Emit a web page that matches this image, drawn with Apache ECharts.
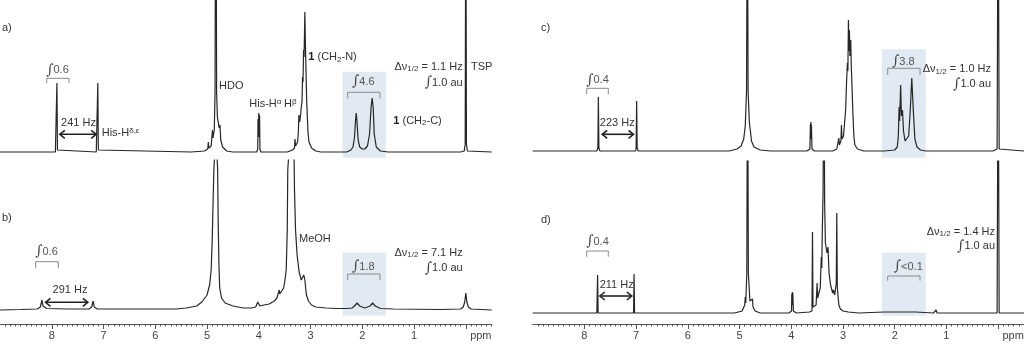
<!DOCTYPE html>
<html>
<head>
<meta charset="utf-8">
<script src="https://cdn.jsdelivr.net/npm/echarts@6/dist/echarts.min.js"></script>
<style>
html,body{margin:0;padding:0;background:#fff;}
#chart{width:1024px;height:345px;}
</style>
</head>
<body>
<div id="chart"></div>
<script>
// ---------- DATA (ppm, intensity above baseline) ----------
const ppmAxis = [9.0, -0.5];
const majorTicks = [0, 1, 2, 3, 4, 5, 6, 7, 8];
const tickLabels = ['1', '2', '3', '4', '5', '6', '7', '8'];
const labelTicks = [1, 2, 3, 4, 5, 6, 7, 8];

// a) spectrum
const specA = [
  [9.0,0],[7.93,0],[7.91,2],[7.90,69],[7.89,2],[7.87,0],
  [7.14,0],[7.12,2],[7.11,69],[7.10,2],[7.08,0],
  [5.3,0],[5.05,1],[4.985,3],[4.975,10],[4.965,4],[4.92,6],[4.895,22],[4.885,14],[4.86,22],[4.845,60],[4.83,400],[4.815,60],[4.80,35],[4.765,24],[4.75,27],[4.735,12],[4.70,5],[4.62,1],[4.5,0],
  [4.04,0],[4.02,3],[4.015,33],[4.008,15],[4.0,39],[3.992,15],[3.985,37],[3.978,3],[3.96,0],
  [3.45,0],[3.35,2],[3.31,4],[3.30,13],[3.29,6],[3.25,10],[3.235,20],[3.225,37],[3.21,30],[3.19,38],[3.18,45],[3.165,50],[3.155,75],[3.145,70],[3.135,102],[3.125,95],[3.11,140],[3.10,110],[3.075,52],[3.05,20],[3.03,10],[2.98,4],[2.9,1],[2.8,0],
  [2.30,0],[2.22,2],[2.18,5],[2.15,15],[2.13,32],[2.118,39],[2.105,32],[2.08,12],[2.05,5],[2.0,3],[1.95,3],[1.90,6],[1.86,18],[1.83,45],[1.81,54],[1.79,45],[1.77,18],[1.73,5],[1.65,1],[1.5,0],
  [0.1,0],[0.03,1],[0.012,8],[0.0,300],[-0.012,8],[-0.03,1],[-0.5,0]
];

// b) spectrum
const specB = [
  [9.0,0],[8.6,0.5],[8.28,1],[8.22,3],[8.19,10],[8.17,4],[8.10,1.5],[7.7,1],
  [7.28,1],[7.23,3],[7.20,9],[7.18,3],[7.12,1],[6.5,1],
  [5.6,1],[5.4,2],[5.2,4],[5.1,8],[5.0,15],[4.95,25],[4.92,40],[4.90,70],[4.88,115],[4.868,140],[4.852,155],[4.83,400],[4.808,155],[4.795,140],[4.785,90],[4.77,45],[4.755,22],[4.72,12],[4.65,7],[4.5,4],[4.3,2],[4.15,2],
  [4.06,3],[4.02,8],[3.98,4],[3.9,5],[3.8,6],[3.7,9],[3.65,12],[3.62,14],[3.605,20],[3.595,16],[3.56,18],[3.52,22],[3.50,28],[3.49,26],[3.47,40],[3.45,80],[3.44,140],[3.415,160],[3.37,400],[3.32,160],[3.31,120],[3.29,80],[3.26,55],[3.22,38],[3.18,30],[3.15,30],[3.13,35],[3.12,36],[3.11,30],[3.08,15],[3.04,9],[2.98,5],[2.9,3],[2.7,2],[2.5,1.5],[2.3,1.5],
  [2.2,2],[2.15,4],[2.10,7],[2.05,4],[1.95,2],[1.85,4],[1.80,7],[1.75,4],[1.65,1.5],[1.4,1],[0.5,0.5],
  [0.1,1],[0.05,3],[0.02,8],[0.0,17],[-0.02,8],[-0.05,3],[-0.1,1],[-0.5,0]
];

// c) spectrum
const specC = [
  [9.0,0],[7.76,0],[7.74,3],[7.73,54],[7.72,3],[7.70,0],
  [7.01,0],[7.0,3],[6.99,50],[6.98,3],[6.96,0],
  [5.2,0],[5.05,2],[4.97,5],[4.92,12],[4.89,25],[4.865,60],[4.85,300],[4.835,60],[4.81,28],[4.80,26],[4.79,20],[4.77,10],[4.72,4],[4.6,1],[4.4,0],
  [3.70,0],[3.64,2],[3.63,27],[3.625,12],[3.62,29],[3.615,12],[3.61,26],[3.60,2],[3.55,0],
  [3.20,0],[3.12,2],[3.09,4],[3.08,13],[3.07,6],[3.04,10],[3.03,26],[3.02,12],[2.99,15],[2.965,31],[2.95,40],[2.93,70],[2.915,88],[2.905,80],[2.895,131],[2.885,100],[2.876,121],[2.865,95],[2.85,111],[2.84,85],[2.83,71],[2.81,40],[2.79,15],[2.77,6],[2.72,2],[2.6,0],
  [2.2,0],[2.0,1],[1.95,4],[1.93,15],[1.915,44],[1.905,30],[1.885,66],[1.87,35],[1.85,41],[1.83,20],[1.80,10],[1.77,8],[1.73,15],[1.70,40],[1.67,73],[1.64,40],[1.61,12],[1.57,4],[1.5,1],[1.4,0],
  [0.1,0],[0.02,2],[0.0,300],[-0.02,2],[-0.5,0]
];

// d) spectrum
const specD = [
  [9.0,0],[7.76,0],[7.745,38],[7.735,0],
  [7.05,0],[7.04,39],[7.03,0],
  [5.1,0],[4.95,2],[4.90,8],[4.89,16],[4.88,10],[4.86,40],[4.845,300],[4.83,40],[4.80,12],[4.75,14],[4.74,6],[4.7,2],[4.6,0],
  [4.05,0],[3.995,2],[3.99,19],[3.985,8],[3.98,21],[3.975,8],[3.97,20],[3.96,2],[3.9,0],
  [3.65,1],[3.60,2],[3.59,81],[3.58,6],[3.52,8],[3.50,30],[3.49,15],[3.44,25],[3.42,56],[3.41,45],[3.40,83],[3.385,120],[3.37,300],[3.355,110],[3.34,70],[3.31,60],[3.29,66],[3.27,40],[3.24,28],[3.22,26],[3.20,20],[3.185,23],[3.16,18],[3.13,30],[3.12,100],[3.11,25],[3.08,8],[3.05,4],[3.0,2],[2.9,1],[2.7,0],
  [2.2,1],[1.6,1],[1.25,0],[1.2,3],[1.18,0],[0.5,0],[0.02,0],[0.0,300],[-0.02,0],[-0.5,0]
];

// integration regions (ppm)
const regionA = [2.38, 1.545];
const regionB = [2.38, 1.545];
const regionC = [2.25, 1.40];
const regionD = [2.25, 1.40];

// ---------- CHART ----------
const FONT = '"Liberation Sans", Arial, Helvetica, sans-serif';
const minorTicks = [];
for (let i = -5; i <= 90; i++) { if (i % 10 !== 0) minorTicks.push(i / 10); }

const grids = [
  {left: 0, width: 491.7, top: 0, height: 160},
  {left: 0, width: 491.7, top: 160, height: 164},
  {left: 532.7, width: 491.3, top: 0, height: 160},
  {left: 532.7, width: 491.3, top: 161, height: 163}
].map(g => Object.assign(g, {containLabel: false, outerBoundsMode: 'none'}));
const yRanges = [[-8,152],[-14,150],[-9,151],[-11,152]];
const boxY = [[80.3,-5.7],[57.3,-5.7],[101.7,-6.7],[60.3,-2.7]];
const specs = [specA, specB, specC, specD];
const regions = [regionA, regionB, regionC, regionD];

function xAx(gi, shown, ticks, len, labels) {
  return {
    type: 'value', gridIndex: gi, position: 'bottom', offset: 0,
    min: ppmAxis[1], max: ppmAxis[0], inverse: true,
    show: shown, splitLine: {show: false},
    axisLine: {show: shown, onZero: false, lineStyle: {color: '#555', width: 1}},
    axisTick: {show: shown, customValues: ticks, length: len, lineStyle: {color: '#555', width: 1}},
    axisLabel: labels ? {
      show: true, customValues: labels.concat([-0.29]), margin: 6, hideOverlap: false,
      color: '#444', fontSize: 11, fontFamily: FONT,
      formatter: v => (v < -0.1 ? 'ppm' : tickLabels[labelTicks.indexOf(Math.round(v))])
    } : {show: false}
  };
}

const xAxes = [
  xAx(0, false, majorTicks, 4, null),
  xAx(1, true, majorTicks, 5, labelTicks),
  xAx(2, false, majorTicks, 4, null),
  xAx(3, true, majorTicks, 5, labelTicks),
  xAx(1, true, minorTicks, 2.5, null),
  xAx(3, true, minorTicks, 2.5, null)
];
const yAxes = yRanges.map((r, i) => ({type: 'value', gridIndex: i, min: r[0], max: r[1], show: false}));

const series = specs.map((d, i) => ({
  type: 'line', xAxisIndex: i, yAxisIndex: i, data: d, showSymbol: false,
  clip: true, animation: false, silent: true, z: 3,
  lineStyle: {color: '#262626', width: 1.2},
  markArea: {
    silent: true, z: 1,
    itemStyle: {color: 'rgba(200,216,232,0.55)'},
    data: [[{xAxis: regions[i][0], yAxis: boxY[i][0]}, {xAxis: regions[i][1], yAxis: boxY[i][1]}]]
  }
}));

// ---------- ANNOTATIONS ----------
const RICH = {
  sub: {fontSize: 8, fontFamily: FONT, fill: '#333', verticalAlign: 'bottom', padding: [5, 0, 0, 0]},
  sup: {fontSize: 8, fontFamily: FONT, fill: '#333', verticalAlign: 'top', padding: [0, 0, 5, 0]},
  b: {fontSize: 11, fontFamily: FONT, fontWeight: 'bold', fill: '#222'},
  int: {fontSize: 14, fontFamily: 'DejaVu Serif, serif', fontStyle: 'italic', fill: '#444'}
};
function T(text, x, y, align, fill) {
  return {type: 'text', silent: true, z: 10, style: {
    text: text, x: x, y: y, align: align || 'left', verticalAlign: 'middle',
    fontSize: 11, fontFamily: FONT, fill: fill || '#333', rich: RICH
  }};
}
function bracket(x1, x2, y, yEnd) {
  return {type: 'polyline', silent: true, z: 10,
    shape: {points: [[x1, yEnd], [x1, y], [x2, y], [x2, yEnd]]},
    style: {stroke: '#8a8a8a', lineWidth: 1, fill: null}};
}
function arrow(x1, x2, y) {
  const s = {stroke: '#222', lineWidth: 1.6, fill: null};
  return [
    {type: 'line', silent: true, z: 10, shape: {x1: x1 + 1, y1: y, x2: x2 - 1, y2: y}, style: s},
    {type: 'polyline', silent: true, z: 10, shape: {points: [[x1 + 5.5, y - 4], [x1 + 0.5, y], [x1 + 5.5, y + 4]]}, style: s},
    {type: 'polyline', silent: true, z: 10, shape: {points: [[x2 - 5.5, y - 4], [x2 - 0.5, y], [x2 - 5.5, y + 4]]}, style: s}
  ];
}

const graphics = [
  // a)
  T('a)', 2, 28),
  T('{int|∫}0.6', 57.5, 70, 'center', '#555'),
  bracket(46.7, 69, 78.3, 83.3),
  T('241 Hz', 78.5, 123, 'center'),
  ...arrow(59.3, 96.7, 134.3),
  T('His-H{sup|δ,ε}', 101.7, 133),
  T('HDO', 219, 86),
  T('His-H{sup|α}', 249.3, 104),
  T('H{sup|β}', 284, 104),
  T('{b|1} (CH{sub|2}-N)', 308.3, 57),
  T('Δν{sub|1/2} = 1.1 Hz', 462.7, 66.7, 'right'),
  T('{int|∫}1.0 au', 462.7, 82.7, 'right'),
  T('TSP', 471, 66.7),
  T('{int|∫}4.6', 363.3, 81.7, 'center', '#555'),
  bracket(347.7, 380, 92.3, 98.3),
  T('{b|1} (CH{sub|2}-C)', 393.3, 120.7),
  // b)
  T('b)', 2, 218),
  T('{int|∫}0.6', 46.5, 251.7, 'center', '#555'),
  bracket(35.7, 58.3, 261.7, 268.3),
  T('291 Hz', 70, 290, 'center'),
  ...arrow(45, 88.3, 302.3),
  T('MeOH', 299, 239),
  T('Δν{sub|1/2} = 7.1 Hz', 462.7, 252.7, 'right'),
  T('{int|∫}1.0 au', 462.7, 268.3, 'right'),
  T('{int|∫}1.8', 363.3, 266.7, 'center', '#555'),
  bracket(347.7, 380, 274, 280),
  // c)
  T('c)', 541, 28),
  T('{int|∫}0.4', 597.5, 80, 'center', '#555'),
  bracket(586.7, 608.3, 88.3, 94.3),
  T('223 Hz', 617.3, 122.7, 'center'),
  ...arrow(601.7, 634, 134.3),
  T('{int|∫}3.8', 903.3, 61.7, 'center', '#555'),
  bracket(887.7, 920, 68.3, 75),
  T('Δν{sub|1/2} = 1.0 Hz', 991, 69.3, 'right'),
  T('{int|∫}1.0 au', 991, 84.3, 'right'),
  // d)
  T('d)', 541, 220),
  T('{int|∫}0.4', 597.5, 241.7, 'center', '#555'),
  bracket(586.7, 608.3, 251, 256.7),
  T('211 Hz', 616.7, 285, 'center'),
  ...arrow(599.3, 632.3, 296),
  T('Δν{sub|1/2} = 1.4 Hz', 995, 231.7, 'right'),
  T('{int|∫}1.0 au', 995, 246, 'right'),
  T('{int|∫}<0.1', 908.3, 266.7, 'center', '#555'),
  bracket(887.7, 920, 276, 280.7)
];

const chart = echarts.init(document.getElementById('chart'), null, {renderer: 'canvas'});
chart.setOption({
  animation: false,
  backgroundColor: '#fff',
  grid: grids,
  xAxis: xAxes,
  yAxis: yAxes,
  series: series,
  graphic: graphics
});
</script>
</body>
</html>
